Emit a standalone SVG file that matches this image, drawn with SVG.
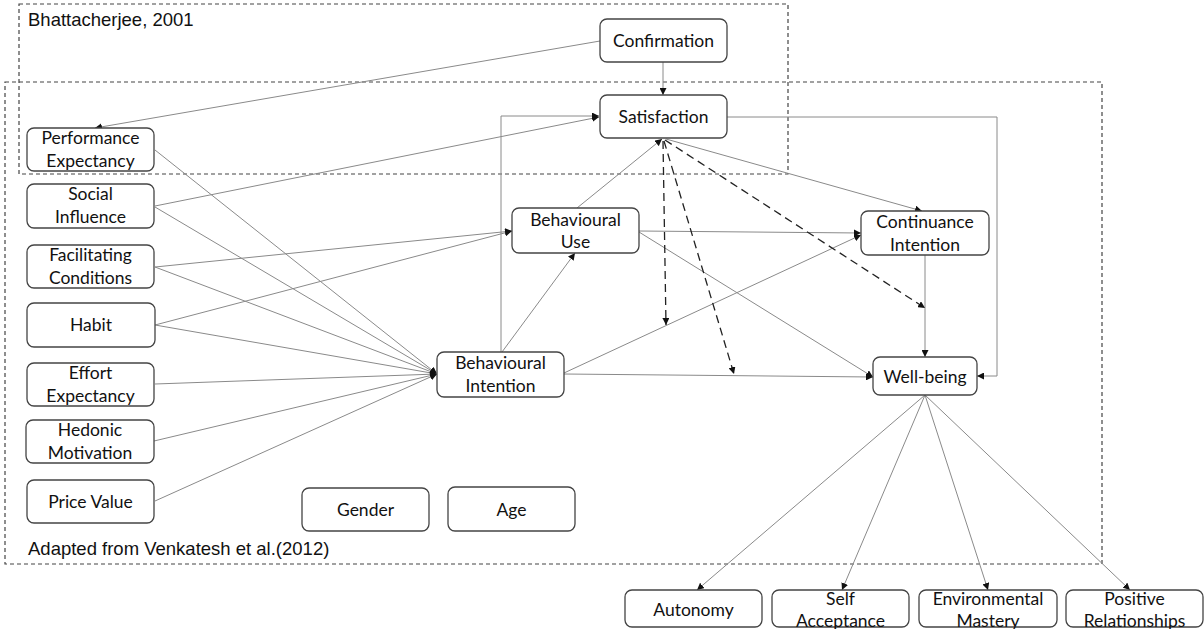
<svg xmlns="http://www.w3.org/2000/svg" width="1204" height="629" viewBox="0 0 1204 629">
<style>
.frame{fill:none;stroke:#444;stroke-width:1.2;stroke-dasharray:4,3}
.box{fill:#fff;stroke:#444;stroke-width:1.3}
.t{font-family:Lato,"Open Sans","Liberation Sans",sans-serif;font-size:17.5px;fill:#111;text-anchor:middle}
.lbl{font-family:"Liberation Sans",Arial,sans-serif;font-size:18.5px;fill:#111}
.c{fill:none;stroke:#8a8a8a;stroke-width:1;marker-end:url(#ah)}
.d{fill:none;stroke:#222;stroke-width:1.3;stroke-dasharray:8,5;marker-end:url(#ah)}
</style>
<defs>
<marker id="ah" markerUnits="userSpaceOnUse" markerWidth="8" markerHeight="7" refX="7" refY="3.5" orient="auto">
<path d="M0,0 L7,3.5 L0,7 z" fill="#111"/>
</marker>
</defs>
<rect width="1204" height="629" fill="#fff"/>
<g id="frames">
<rect class="frame" x="19" y="4" width="769" height="170"/>
<rect class="frame" x="5" y="82" width="1097" height="482"/>
<text class="lbl" x="28" y="26">Bhattacherjee, 2001</text>
<text class="lbl" x="28" y="555">Adapted from Venkatesh et al.(2012)</text>
</g>
<g id="connectors">
<path class="c" d="M600,41 L95,128"/>
<path class="c" d="M663,62 L663,95"/>
<path class="c" d="M155,206 L599,117"/>
<path class="c" d="M501,352 L501,116 L599,116"/>
<path class="c" d="M577,208 L662,139"/>
<path class="c" d="M502,352 L575,253"/>
<path class="c" d="M666,139 L922,211"/>
<path class="c" d="M727,117 L997,117 L997,376 L977,376"/>
<path class="c" d="M639,231 L861,233"/>
<path class="c" d="M564,373 L861,235"/>
<path class="c" d="M639,232 L873,377"/>
<path class="c" d="M564,374 L873,377"/>
<path class="c" d="M925,255 L925,357"/>
<path class="d" d="M663,141 L666,325"/>
<path class="d" d="M664,141 L734,374"/>
<path class="d" d="M665,140 L925,308"/>
<path class="c" d="M155,150 L437,374"/>
<path class="c" d="M155,207 L437,374"/>
<path class="c" d="M155,267 L437,374"/>
<path class="c" d="M155,325 L437,374"/>
<path class="c" d="M155,384 L437,374"/>
<path class="c" d="M154,441 L437,374"/>
<path class="c" d="M155,501 L437,374"/>
<path class="c" d="M155,267 L512,231"/>
<path class="c" d="M155,325 L512,231"/>
<path class="c" d="M925,395 L697,590"/>
<path class="c" d="M925,395 L842,590"/>
<path class="c" d="M925,395 L988,590"/>
<path class="c" d="M925,395 L1130,590"/>
</g>
<g id="confirmation"><rect class="box" x="600" y="19" width="127" height="43" rx="7"/><text class="t" x="663.5" y="47">Confirmation</text></g>
<g id="satisfaction"><rect class="box" x="600" y="95" width="127" height="43" rx="7"/><text class="t" x="663.5" y="123">Satisfaction</text></g>
<g id="performance-expectancy"><rect class="box" x="27" y="128" width="127" height="43" rx="7"/><text class="t" x="90.5" y="144">Performance</text><text class="t" x="90.5" y="167">Expectancy</text></g>
<g id="social-influence"><rect class="box" x="27" y="184" width="127" height="44" rx="7"/><text class="t" x="90.5" y="200">Social</text><text class="t" x="90.5" y="223">Influence</text></g>
<g id="facilitating-conditions"><rect class="box" x="27" y="245" width="127" height="43" rx="7"/><text class="t" x="90.5" y="261">Facilitating</text><text class="t" x="90.5" y="284">Conditions</text></g>
<g id="habit"><rect class="box" x="27" y="303" width="128" height="44" rx="7"/><text class="t" x="91" y="331">Habit</text></g>
<g id="effort-expectancy"><rect class="box" x="27" y="363" width="127" height="43" rx="7"/><text class="t" x="90.5" y="379">Effort</text><text class="t" x="90.5" y="402">Expectancy</text></g>
<g id="hedonic-motivation"><rect class="box" x="26" y="420" width="128" height="43" rx="7"/><text class="t" x="90" y="436">Hedonic</text><text class="t" x="90" y="459">Motivation</text></g>
<g id="price-value"><rect class="box" x="27" y="480" width="127" height="43" rx="7"/><text class="t" x="90.5" y="508">Price Value</text></g>
<g id="gender"><rect class="box" x="302" y="488" width="127" height="43" rx="7"/><text class="t" x="365.5" y="516">Gender</text></g>
<g id="age"><rect class="box" x="448" y="487" width="127" height="44" rx="7"/><text class="t" x="511.5" y="516">Age</text></g>
<g id="behavioural-intention"><rect class="box" x="437" y="352" width="127" height="45" rx="7"/><text class="t" x="500.5" y="369">Behavioural</text><text class="t" x="500.5" y="392">Intention</text></g>
<g id="behavioural-use"><rect class="box" x="512" y="208" width="127" height="45" rx="7"/><text class="t" x="575.5" y="226">Behavioural</text><text class="t" x="575.5" y="248">Use</text></g>
<g id="continuance-intention"><rect class="box" x="861" y="211" width="128" height="44" rx="7"/><text class="t" x="925" y="228">Continuance</text><text class="t" x="925" y="251">Intention</text></g>
<g id="well-being"><rect class="box" x="873" y="357" width="104" height="38" rx="7"/><text class="t" x="925" y="383">Well-being</text></g>
<g id="autonomy"><rect class="box" x="625" y="590" width="137" height="37" rx="7"/><text class="t" x="693.5" y="616">Autonomy</text></g>
<g id="self-acceptance"><rect class="box" x="772" y="590" width="137" height="37" rx="7"/><text class="t" x="840.5" y="605">Self</text><text class="t" x="840.5" y="627">Acceptance</text></g>
<g id="environmental-mastery"><rect class="box" x="919" y="590" width="138" height="37" rx="7"/><text class="t" x="988" y="605">Environmental</text><text class="t" x="988" y="627">Mastery</text></g>
<g id="positive-relationships"><rect class="box" x="1066" y="590" width="137" height="37" rx="7"/><text class="t" x="1134.5" y="605">Positive</text><text class="t" x="1134.5" y="627">Relationships</text></g>
</svg>
